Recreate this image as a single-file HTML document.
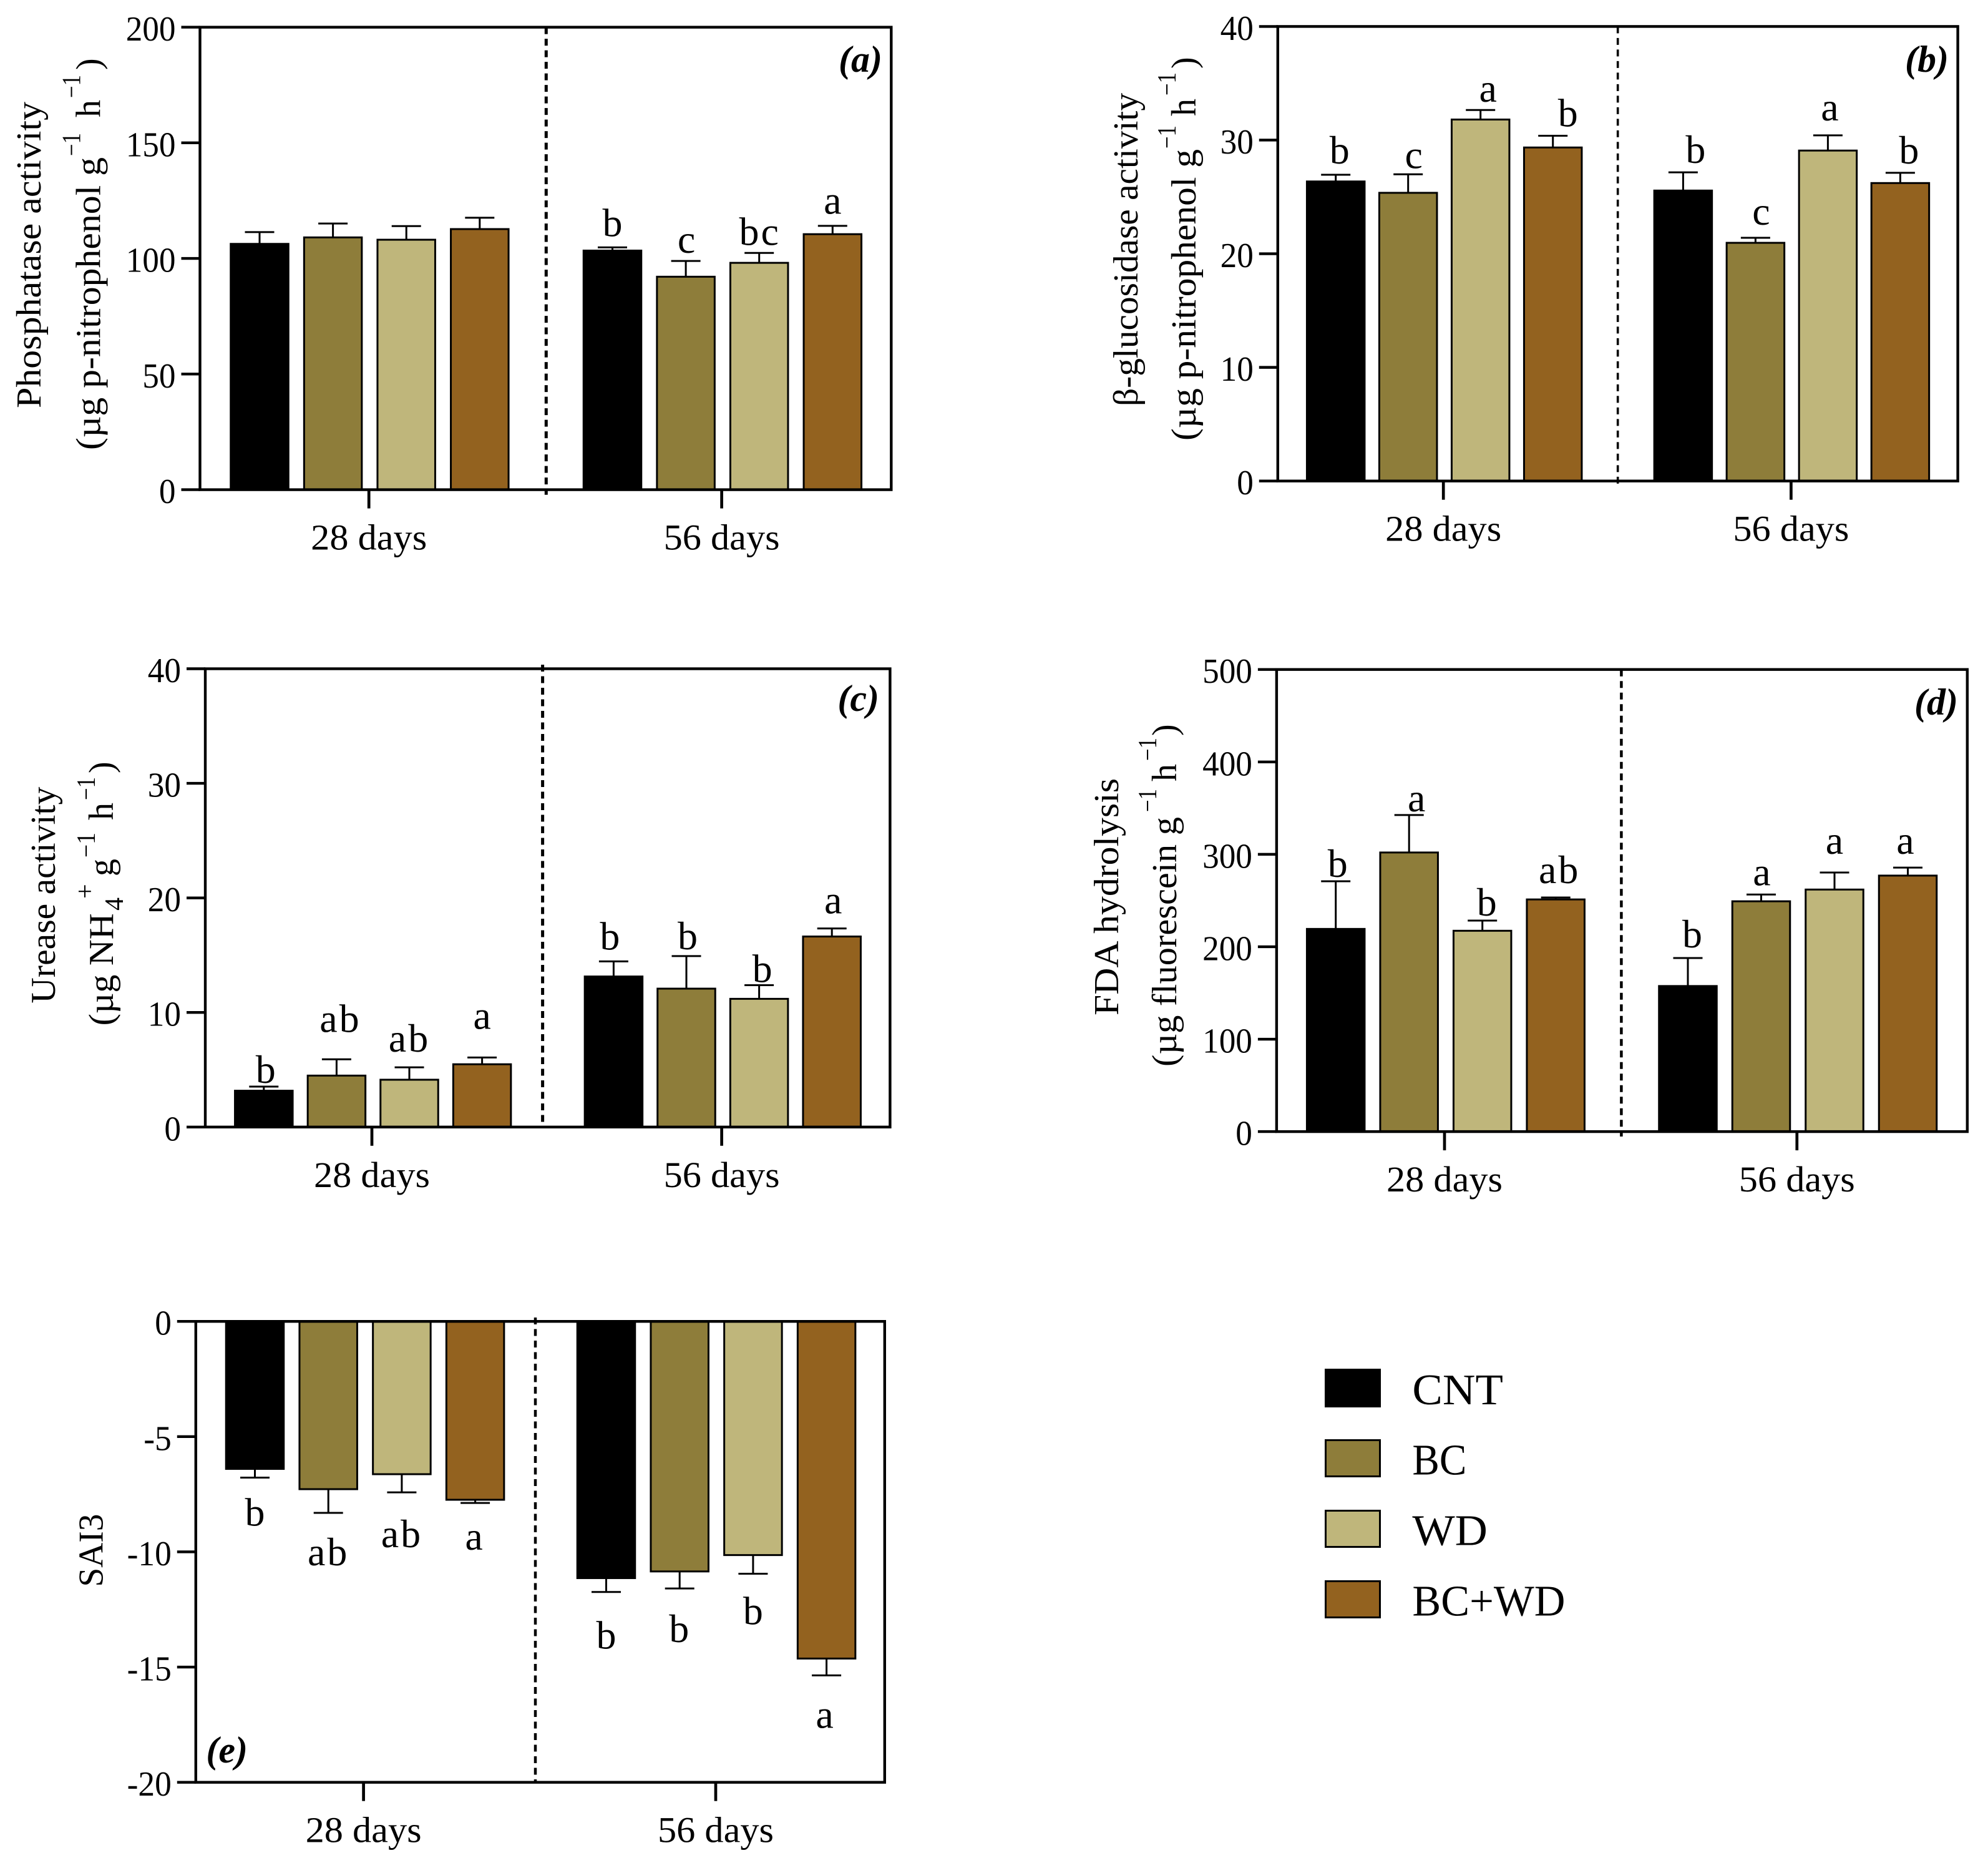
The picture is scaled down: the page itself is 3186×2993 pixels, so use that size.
<!DOCTYPE html>
<html lang="en">
<head>
<meta charset="utf-8">
<title>Soil enzyme activity bar charts</title>
<style>
html,body{margin:0;padding:0;background:#fff;}
svg{display:block;}
text{font-family:"Liberation Serif","DejaVu Serif",serif;fill:#000;}
.t{font-size:56px;}
.s{font-size:42px;}
.p{font-size:60px;font-weight:bold;font-style:italic;}
.l{font-size:70px;}
</style>
</head>
<body>
<svg id="figure" xmlns="http://www.w3.org/2000/svg" width="3186" height="2993" viewBox="0 0 3186 2993">
<rect width="3186" height="2993" fill="#fff"/>

<g id="charts"></g>

<g>
<text class="t" transform="translate(65,654) rotate(-90)" textLength="491" lengthAdjust="spacingAndGlyphs">Phosphatase activity</text>
<g transform="translate(160.7,0) rotate(-90)">
<text class="t" x="-721" textLength="469" lengthAdjust="spacingAndGlyphs">(µg p-nitrophenol g</text>
<text class="s" x="-250" y="-32" textLength="37" lengthAdjust="spacingAndGlyphs">−1</text>
<text class="t" x="-188">h</text>
<text class="s" x="-157" y="-32" textLength="37" lengthAdjust="spacingAndGlyphs">−1</text>
<text class="t" x="-112">)</text>
</g>
</g>

<g>
<text class="t" transform="translate(1823,651) rotate(-90)" textLength="502" lengthAdjust="spacingAndGlyphs">β-glucosidase activity</text>
<g transform="translate(1916,0) rotate(-90)">
<text class="t" x="-706" textLength="467" lengthAdjust="spacingAndGlyphs">(µg p-nitrophenol g</text>
<text class="s" x="-238" y="-32" textLength="37" lengthAdjust="spacingAndGlyphs">−1</text>
<text class="t" x="-186">h</text>
<text class="s" x="-153" y="-32" textLength="37" lengthAdjust="spacingAndGlyphs">−1</text>
<text class="t" x="-110">)</text>
</g>
</g>

<g>
<text class="t" transform="translate(88,1607.7) rotate(-90)" textLength="347" lengthAdjust="spacingAndGlyphs">Urease activity</text>
<g transform="translate(181,0) rotate(-90)">
<text class="t" x="-1643.4" textLength="180" lengthAdjust="spacingAndGlyphs">(µg NH</text>
<text class="s" x="-1459" y="16">4</text>
<text class="s" x="-1440" y="-31">+</text>
<text class="t" x="-1404">g</text>
<text class="s" x="-1374" y="-29" textLength="40" lengthAdjust="spacingAndGlyphs">−1</text>
<text class="t" x="-1314">h</text>
<text class="s" x="-1282" y="-29" textLength="37" lengthAdjust="spacingAndGlyphs">−1</text>
<text class="t" x="-1239">)</text>
</g>
</g>

<g>
<text class="t" transform="translate(1792,1627) rotate(-90)" textLength="380" lengthAdjust="spacingAndGlyphs">FDA hydrolysis</text>
<g transform="translate(1884.8,0) rotate(-90)">
<text class="t" x="-1709" textLength="400" lengthAdjust="spacingAndGlyphs">(µg fluorescein g</text>
<text class="s" x="-1301" y="-32" textLength="37" lengthAdjust="spacingAndGlyphs">−1</text>
<text class="t" x="-1252">h</text>
<text class="s" x="-1219" y="-32" textLength="37" lengthAdjust="spacingAndGlyphs">−1</text>
<text class="t" x="-1179">)</text>
</g>
</g>

<text class="t" transform="translate(164.5,2542.6) rotate(-90)" textLength="117" lengthAdjust="spacingAndGlyphs">SAI3</text>

<text class="p" x="1414" y="115" text-anchor="end">(a)</text>
<text class="p" x="3123" y="115" text-anchor="end">(b)</text>
<text class="p" x="1409" y="1139" text-anchor="end">(c)</text>
<text class="p" x="3138" y="1145" text-anchor="end">(d)</text>
<text class="p" x="397" y="2824" text-anchor="end">(e)</text>

<g>
<g>
<rect x="2124.5" y="2194.5" width="87" height="59" fill="#000" stroke="#000" stroke-width="3"/>
<text class="l" x="2263.4" y="2250" textLength="145.5" lengthAdjust="spacingAndGlyphs">CNT</text>
</g>
<g>
<rect x="2124.5" y="2307.5" width="87" height="58" fill="#8E7D3A" stroke="#000" stroke-width="3"/>
<text class="l" x="2263.4" y="2362.4" textLength="87" lengthAdjust="spacingAndGlyphs">BC</text>
</g>
<g>
<rect x="2124.5" y="2420.5" width="87" height="58" fill="#BFB67B" stroke="#000" stroke-width="3"/>
<text class="l" x="2263.4" y="2475.3" textLength="120.5" lengthAdjust="spacingAndGlyphs">WD</text>
</g>
<g>
<rect x="2124.5" y="2533.5" width="87" height="58" fill="#93621F" stroke="#000" stroke-width="3"/>
<text class="l" x="2263.4" y="2588.6" textLength="245" lengthAdjust="spacingAndGlyphs">BC+WD</text>
</g>
</g>
</svg>

<script>
// Shared categories
const groupLabels = ['28 days', '56 days'];
const seriesNames = ['CNT', 'BC', 'WD', 'BC+WD'];

// Panel (a) phosphatase: CNT, BC, WD, BC+WD at 28 days, then the same at 56 days
const phosphataseTicks = [0, 50, 100, 150, 200];
const phosphataseMeans = [106.3, 109.1, 108.1, 112.7, 103.4, 92.1, 98.1, 110.5];
const phosphataseErrors = [5.1, 6.0, 5.9, 4.9, 1.4, 6.8, 4.3, 3.6];
const phosphataseLetters = ['', '', '', '', 'b', 'c', 'bc', 'a'];

// Panel (b) beta-glucosidase
const glucosidaseTicks = [0, 10, 20, 30, 40];
const glucosidaseMeans = [26.36, 25.36, 31.81, 29.35, 25.56, 20.96, 29.08, 26.22];
const glucosidaseErrors = [0.59, 1.63, 0.84, 1.03, 1.6, 0.44, 1.34, 0.9];
const glucosidaseLetters = ['b', 'c', 'a', 'b', 'b', 'c', 'a', 'b'];

// Panel (c) urease
const ureaseTicks = [0, 10, 20, 30, 40];
const ureaseMeans = [3.17, 4.49, 4.13, 5.48, 13.14, 12.08, 11.19, 16.63];
const ureaseErrors = [0.36, 1.42, 1.08, 0.59, 1.32, 2.84, 1.19, 0.7];
const ureaseLetters = ['b', 'ab', 'ab', 'a', 'b', 'b', 'b', 'a'];

// Panel (d) FDA hydrolysis
const fdaTicks = [0, 100, 200, 300, 400, 500];
const fdaMeans = [219.3, 302, 217.3, 251.2, 157.5, 249.2, 261.9, 277];
const fdaErrors = [51.6, 40.5, 11, 2.1, 30.3, 7.3, 18.4, 8.6];
const fdaLetters = ['b', 'a', 'b', 'ab', 'b', 'a', 'a', 'a'];

// Panel (e) SAI3
const saiTicks = [0, -5, -10, -15, -20];
const saiMeans = [-6.4, -7.28, -6.63, -7.74, -11.14, -10.85, -10.14, -14.63];
const saiErrors = [0.38, 1.03, 0.79, 0.14, 0.6, 0.74, 0.81, 0.73];
const saiLetters = ['b', 'ab', 'ab', 'a', 'b', 'b', 'b', 'a'];

const seriesFills = ['#000000', '#8E7D3A', '#BFB67B', '#93621F'];

const panels = [
  {id:'a', ticks:phosphataseTicks, means:phosphataseMeans, errors:phosphataseErrors, letters:phosphataseLetters,
   L:320.5, R:1428.3, T:43.6, B:784.6, starts:[416, 981.5], step:117.6, xTicks:[591.2, 1156.6],
   div:875.3, divTop:43.6, divBottom:792.7, divW:5,
   gaps:[0,0,0,0,17.6,13.3,12.7,19.4], shift:[0,0,0,0,0,1,1,0]},
  {id:'b', ticks:glucosidaseTicks, means:glucosidaseMeans, errors:glucosidaseErrors, letters:glucosidaseLetters,
   L:2047.8, R:3137.6, T:42.4, B:770.7, starts:[2140.7, 2697.4], step:116, xTicks:[2313.2, 2870.4],
   div:2592.7, divTop:42.4, divBottom:778, divW:3.6,
   gaps:[18,10,13,15,15,21,24,15], shift:[6,9,12,24,20,9,3,14]},
  {id:'c', ticks:ureaseTicks, means:ureaseMeans, errors:ureaseErrors, letters:ureaseLetters,
   L:329, R:1426.4, T:1071.5, B:1805.8, starts:[422.8, 983.4], step:116.6, xTicks:[596, 1156.6],
   div:869.6, divTop:1065, divBottom:1806, divW:5,
   gaps:[6,44,25,46,19,11,5,24], shift:[3,6,0,0,-6,2,5,2]},
  {id:'d', ticks:fdaTicks, means:fdaMeans, errors:fdaErrors, letters:fdaLetters,
   L:2045.9, R:3152.8, T:1072.7, B:1813.1, starts:[2140.7, 2705], step:117.5, xTicks:[2315, 2879.8],
   div:2598.4, divTop:1072.7, divBottom:1821, divW:4.5,
   gaps:[7,6,8,23,17,15,30,22], shift:[3,12,7,6,7,1,0,-4]},
  {id:'e', ticks:saiTicks, means:saiMeans, errors:saiErrors, letters:saiLetters,
   L:313.8, R:1417.8, T:2117.2, B:2855.7, starts:[408.5, 971.5], step:117.7, xTicks:[582.6, 1147],
   div:858, divTop:2111, divBottom:2856, divW:4.5,
   gaps:[77,84,88,75,91,86,81,84], shift:[0,0,0,-2,0,-1,0,-3]}
];

const NS = 'http://www.w3.org/2000/svg';
const BAR_W = 92.5, BAR_STROKE = 3, CAP_W = 47, AXIS_W = 4.4, TICK_LEN = 30;

function make(parent, tag, props, text) {
  const node = document.createElementNS(NS, tag);
  for (const k in props) node.setAttribute(k, props[k]);
  if (text !== undefined) node.textContent = text;
  parent.appendChild(node);
  return node;
}

function tickLabelWidth(str) {
  const digits = str.replace('-', '').length;
  return digits * 26.6 + (str.charAt(0) === '-' ? 18 : 0);
}

const root = document.getElementById('charts');

panels.forEach(function (p) {
  const maxV = Math.max.apply(null, p.ticks);
  const minV = Math.min.apply(null, p.ticks);
  const yScale = function (v) { return p.B - (v - minV) / (maxV - minV) * (p.B - p.T); };
  const xScale = function (k) {
    const g = Math.floor(k / seriesNames.length);
    const i = k % seriesNames.length;
    return p.starts[g] + i * p.step;
  };

  const chart = make(root, 'g', {});
  
  

  p.means.forEach(function (v, k) {
    const series = k % seriesNames.length;
    const group = Math.floor(k / seriesNames.length);
    const cx = xScale(k);
    const y0 = yScale(0);
    const yv = yScale(v);
    const dir = v < 0 ? 1 : -1;
    const capY = yScale(v + (v < 0 ? -p.errors[k] : p.errors[k]));

    const stem = make(chart, 'line', {x1:cx, x2:cx, y1:yv, y2:capY, stroke:'#000', 'stroke-width':3});
    
    

    const cap = make(chart, 'line', {x1:cx - CAP_W / 2, x2:cx + CAP_W / 2, y1:capY, y2:capY, stroke:'#000', 'stroke-width':3});
    
    

    const bar = make(chart, 'rect', {
      x: cx - BAR_W / 2, y: Math.min(y0, yv), width: BAR_W, height: Math.abs(yv - y0),
      fill: seriesFills[series], stroke: '#000', 'stroke-width': BAR_STROKE
    });
    
    

    if (p.letters[k]) {
      const letter = make(chart, 'text', {
        x: cx + p.shift[k], y: capY + dir * p.gaps[k], 'text-anchor': 'middle',
        'font-size': 64, 'letter-spacing': p.letters[k].length > 1 ? 3 : 0
      }, p.letters[k]);
      
      
    }
  });

  const frame = make(chart, 'rect', {x:p.L, y:p.T, width:p.R - p.L, height:p.B - p.T, fill:'none', stroke:'#000', 'stroke-width':AXIS_W});
  
  

  const divider = make(chart, 'line', {x1:p.div, x2:p.div, y1:p.divTop, y2:p.divBottom, stroke:'#000', 'stroke-width':p.divW, 'stroke-dasharray':'11 7.5'});
  
  

  p.ticks.forEach(function (t) {
    const y = yScale(t);
    const tick = make(chart, 'line', {x1:p.L - TICK_LEN, x2:p.L, y1:y, y2:y, stroke:'#000', 'stroke-width':AXIS_W});
    
    

    const str = String(t);
    const label = make(chart, 'text', {x:p.L - 39, y:y + 21.5, 'text-anchor':'end', 'font-size':56, textLength:tickLabelWidth(str), lengthAdjust:'spacingAndGlyphs'}, str);
    
    
  });

  groupLabels.forEach(function (name, g) {
    const x = p.xTicks[g];
    const tick = make(chart, 'line', {x1:x, x2:x, y1:p.B, y2:p.B + TICK_LEN, stroke:'#000', 'stroke-width':4.7});
    
    

    const label = make(chart, 'text', {x:x, y:p.B + 96, 'text-anchor':'middle', 'font-size':58, textLength:186, lengthAdjust:'spacingAndGlyphs'}, name);
    
    
  });
});
</script>
</body>
</html>
